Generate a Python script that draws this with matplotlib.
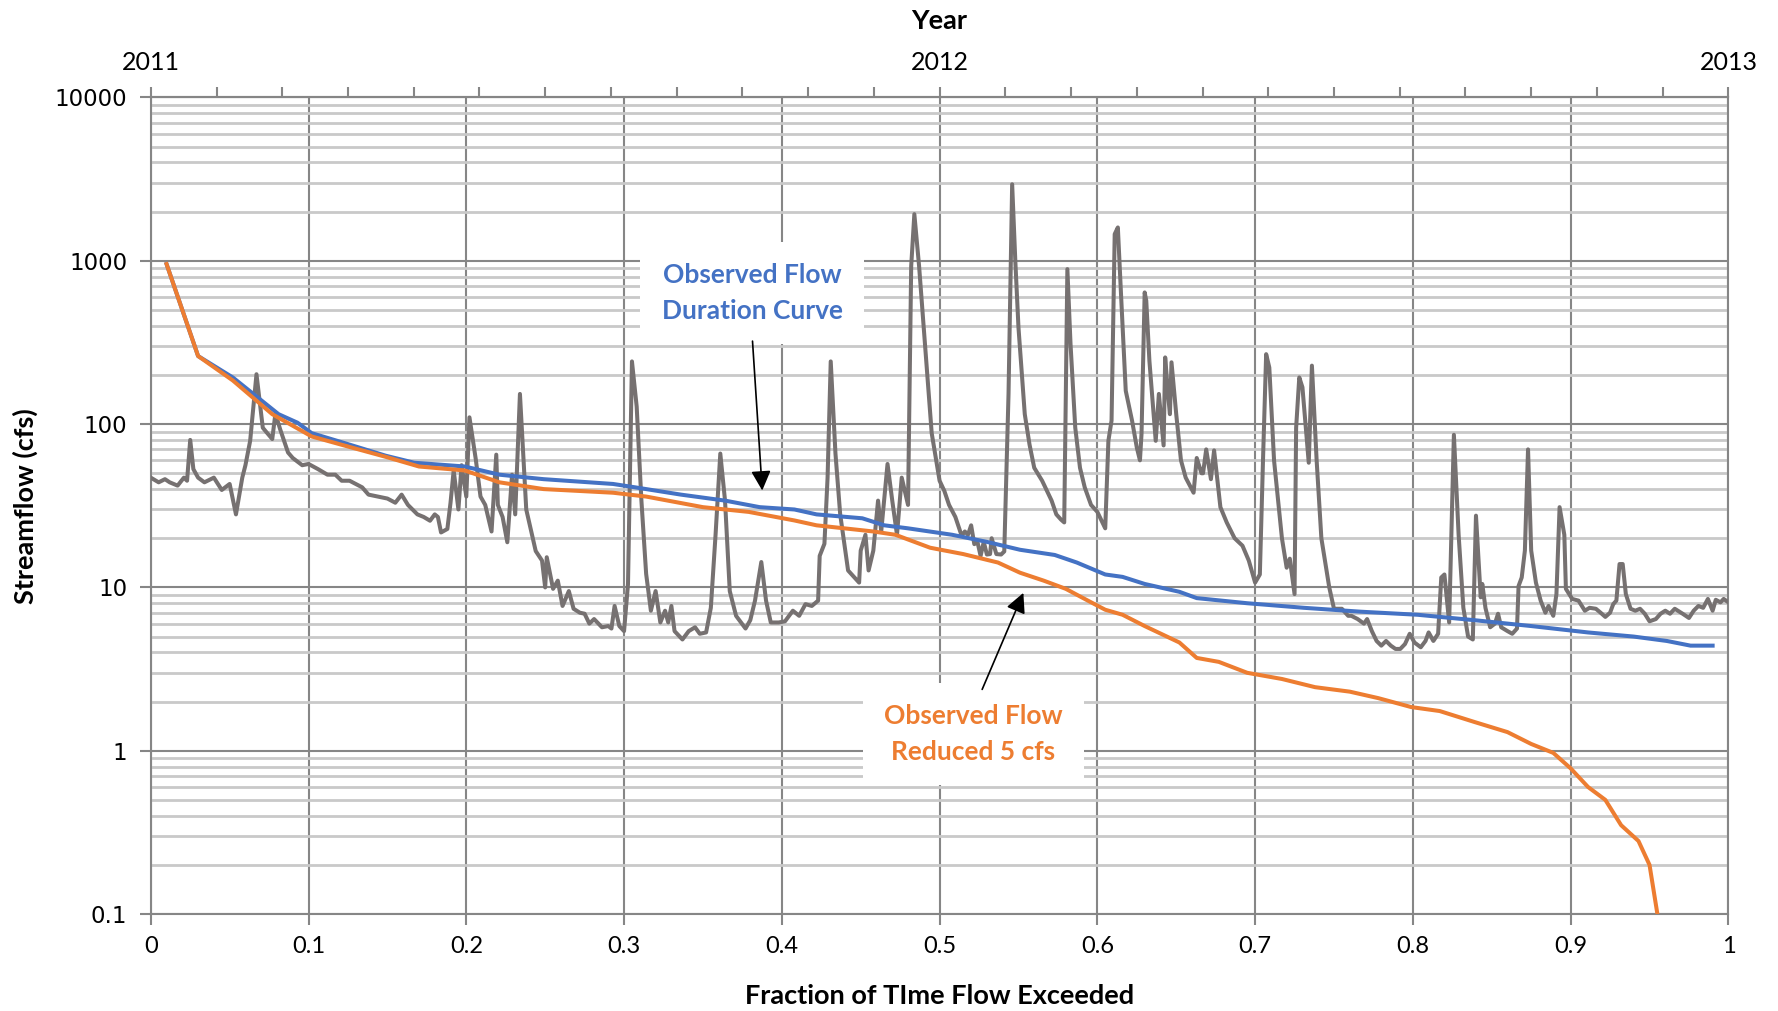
import numpy as np
import matplotlib
matplotlib.use("Agg")
import matplotlib.pyplot as plt

plt.rcParams['font.family'] = ['Lato', 'DejaVu Sans']

# flow duration curves (fraction of time exceeded, cfs)
fdc_x = [0.010, 0.030, 0.052, 0.081, 0.093, 0.102, 0.120, 0.149, 0.167, 0.199, 0.221, 0.249,
         0.293, 0.307, 0.336, 0.364, 0.386, 0.408, 0.422, 0.451, 0.465, 0.480, 0.508, 0.530,
         0.551, 0.573, 0.587, 0.605, 0.616, 0.630, 0.652, 0.663, 0.695, 0.731, 0.767, 0.803,
         0.839, 0.875, 0.911, 0.940, 0.961, 0.976, 0.990]
fdc_obs = [955, 261, 193, 115, 102, 88, 78, 64, 58, 55, 49, 46,
           43, 41, 37, 34, 31, 30, 28, 26.5, 24, 23, 21, 19,
           17, 15.8, 14.2, 12, 11.6, 10.5, 9.4, 8.6, 8.0, 7.5, 7.1, 6.8,
           6.3, 5.8, 5.3, 5.0, 4.7, 4.4, 4.4]

red_x = [0.010, 0.030, 0.052, 0.077, 0.102, 0.127, 0.149, 0.170, 0.199, 0.221, 0.249, 0.293,
         0.314, 0.350, 0.379, 0.408, 0.422, 0.458, 0.472, 0.494, 0.515, 0.537, 0.551, 0.566,
         0.580, 0.594, 0.605, 0.616, 0.630, 0.652, 0.663, 0.677, 0.695, 0.717, 0.738, 0.760,
         0.778, 0.799, 0.817, 0.839, 0.860, 0.875, 0.889, 0.900, 0.911, 0.922, 0.932, 0.943,
         0.950, 0.955]
red_obs = [955, 261, 185, 115, 84, 72, 63, 55, 52, 44, 40, 38,
           36, 31, 29, 25.7, 24, 22, 21, 17.5, 16, 14.2, 12.3, 11,
           9.8, 8.3, 7.3, 6.8, 5.8, 4.6, 3.7, 3.5, 3.0, 2.75, 2.45, 2.3,
           2.1, 1.85, 1.75, 1.5, 1.3, 1.1, 0.97, 0.78, 0.6, 0.5, 0.35, 0.28,
           0.2, 0.1]

# daily streamflow 2011-2012 (as fraction of the two years)
daily_x = [0.000, 0.005, 0.009, 0.012, 0.017, 0.021, 0.023, 0.025, 0.027, 0.030, 0.034, 0.040,
           0.045, 0.050, 0.054, 0.058, 0.060, 0.063, 0.067, 0.071, 0.073, 0.077, 0.079, 0.082,
           0.087, 0.090, 0.096, 0.100, 0.106, 0.112, 0.117, 0.121, 0.126, 0.134, 0.138, 0.144,
           0.150, 0.155, 0.159, 0.163, 0.169, 0.173, 0.177, 0.180, 0.182, 0.184, 0.188, 0.190,
           0.192, 0.195, 0.197, 0.200, 0.202, 0.206, 0.209, 0.212, 0.216, 0.219, 0.220, 0.223,
           0.226, 0.229, 0.231, 0.234, 0.238, 0.244, 0.248, 0.250, 0.251, 0.255, 0.258, 0.261,
           0.265, 0.268, 0.272, 0.275, 0.278, 0.281, 0.286, 0.290, 0.292, 0.294, 0.297, 0.300,
           0.3025, 0.305, 0.308, 0.311, 0.314, 0.317, 0.320, 0.323, 0.326, 0.328, 0.330, 0.332,
           0.337, 0.341, 0.345, 0.348, 0.352, 0.355, 0.358, 0.361, 0.364, 0.367, 0.371, 0.377,
           0.380, 0.383, 0.387, 0.390, 0.393, 0.398, 0.402, 0.407, 0.411, 0.415, 0.419, 0.423,
           0.424, 0.427, 0.429, 0.431, 0.434, 0.437, 0.442, 0.449, 0.450, 0.453, 0.455, 0.458,
           0.461, 0.463, 0.467, 0.470, 0.473, 0.476, 0.480, 0.482, 0.484, 0.487, 0.491, 0.495,
           0.500, 0.503, 0.506, 0.510, 0.514, 0.516, 0.518, 0.520, 0.522, 0.524, 0.526, 0.528,
           0.530, 0.532, 0.533, 0.536, 0.539, 0.541, 0.5437, 0.546, 0.548, 0.550, 0.554, 0.557,
           0.560, 0.565, 0.571, 0.574, 0.577, 0.579, 0.581, 0.583, 0.586, 0.589, 0.592, 0.596,
           0.600, 0.605, 0.607, 0.609, 0.611, 0.613, 0.615, 0.618, 0.622, 0.625, 0.627, 0.628,
           0.630, 0.631, 0.633, 0.636, 0.637, 0.639, 0.641, 0.642, 0.643, 0.645, 0.646, 0.647,
           0.650, 0.653, 0.656, 0.661, 0.663, 0.666, 0.667, 0.669, 0.672, 0.674, 0.678, 0.682,
           0.687, 0.692, 0.696, 0.700, 0.703, 0.705, 0.707, 0.709, 0.712, 0.717, 0.720, 0.722,
           0.725, 0.726, 0.728, 0.730, 0.734, 0.736, 0.739, 0.742, 0.747, 0.750, 0.755, 0.759,
           0.761, 0.765, 0.769, 0.771, 0.774, 0.777, 0.780, 0.783, 0.786, 0.789, 0.792, 0.795,
           0.798, 0.801, 0.805, 0.808, 0.810, 0.813, 0.816, 0.818, 0.820, 0.823, 0.826, 0.829,
           0.832, 0.835, 0.838, 0.840, 0.843, 0.844, 0.846, 0.849, 0.852, 0.854, 0.856, 0.860,
           0.863, 0.866, 0.867, 0.869, 0.871, 0.873, 0.875, 0.878, 0.881, 0.884, 0.886, 0.889,
           0.891, 0.893, 0.896, 0.897, 0.901, 0.905, 0.909, 0.912, 0.916, 0.919, 0.922, 0.925,
           0.927, 0.929, 0.931, 0.933, 0.935, 0.938, 0.941, 0.944, 0.947, 0.950, 0.954, 0.957,
           0.960, 0.963, 0.966, 0.971, 0.975, 0.978, 0.981, 0.984, 0.987, 0.990, 0.992, 0.995,
           0.997, 1.000]
daily_q = [47, 44, 46, 44, 42, 47, 45, 80, 53, 47, 44, 47,
           39.5, 43, 28, 47, 56, 79, 202, 95, 90, 81, 116, 93,
           67, 62, 56, 57, 53, 49, 49, 45, 45, 41, 37, 36,
           35, 33, 37, 32, 28, 27, 25.6, 28, 27, 21.7, 22.8, 33,
           52, 30, 56, 36, 110, 61, 36, 32, 22, 65, 32, 27,
           18.9, 49, 28, 153, 30, 16.7, 14.6, 10, 15.3, 9.8, 11, 7.7,
           9.5, 7.4, 7.0, 6.9, 6.0, 6.4, 5.7, 5.8, 5.6, 7.7, 5.8, 5.4,
           10.5, 242, 128, 34, 12.1, 7.2, 9.5, 6.1, 7.2, 6.1, 7.7, 5.4,
           4.8, 5.4, 5.7, 5.2, 5.3, 7.5, 21, 66, 34, 9.5, 6.7, 5.6,
           6.3, 8.3, 14.3, 8.3, 6.1, 6.1, 6.2, 7.2, 6.7, 7.9, 7.7, 8.3,
           15.6, 18.5, 47, 242, 66, 28, 12.7, 10.7, 16.8, 21, 12.7, 16.8,
           34, 22, 57, 34, 21, 47, 32, 927, 1930, 930, 285, 88,
           45, 39, 32, 27, 20.7, 22, 21, 24, 18.4, 19, 15.6, 19,
           15.9, 16, 20, 16, 15.9, 16.6, 153, 2940, 1000, 391, 115, 75,
           54, 45, 34, 28, 26, 25, 889, 309, 95, 54, 41, 32,
           29, 23, 79, 105, 1456, 1600, 625, 160, 105, 72, 60, 87,
           640, 570, 244, 105, 79, 153, 95, 74, 256, 146, 115, 239,
           115, 60, 47, 38, 62, 50, 50, 70, 46, 69, 31, 25,
           20, 18, 14.6, 10.7, 12, 60, 268, 222, 60, 20, 13.2, 15,
           9.1, 95, 193, 168, 58, 228, 60, 20, 10, 7.4, 7.4, 6.7,
           6.7, 6.4, 6.0, 6.4, 5.4, 4.7, 4.4, 4.7, 4.4, 4.2, 4.2, 4.5,
           5.2, 4.6, 4.3, 4.7, 5.3, 4.7, 5.2, 11.5, 12, 6.1, 86, 21,
           7.5, 5.0, 4.8, 27.5, 8.7, 10.5, 7.5, 5.7, 6.0, 6.9, 5.7, 5.4,
           5.2, 5.6, 10.2, 11.5, 16.8, 70, 16.8, 10.7, 8.3, 7.0, 7.7, 6.7,
           9.1, 31, 21, 9.8, 8.5, 8.3, 7.2, 7.5, 7.4, 7.0, 6.6, 7.0,
           7.9, 8.3, 13.9, 13.9, 9.1, 7.4, 7.2, 7.4, 6.9, 6.2, 6.4, 6.9,
           7.2, 6.9, 7.4, 6.9, 6.5, 7.2, 7.7, 7.5, 8.5, 7.2, 8.4, 8.1,
           8.5, 8.1]

y_ticks = [0.1, 1, 10, 100, 1000, 10000]
y_tick_labels = ['0.1', '1', '10', '100', '1000', '10000']
x_ticks = [0, 0.1, 0.2, 0.3, 0.4, 0.5, 0.6, 0.7, 0.8, 0.9, 1]
x_tick_labels = ['0', '0.1', '0.2', '0.3', '0.4', '0.5', '0.6', '0.7', '0.8', '0.9', '1']
year_ticks = [0, 0.5, 1]
year_labels = ['2011', '2012', '2013']

grid_dark = '#868686'
grid_light = '#c9c9c9'

fig = plt.figure(figsize=(17.78, 10.11), dpi=100)
ax = fig.add_axes([0.0848, 0.0959, 0.8873, 0.8077])

ax.plot(daily_x, daily_q, color='#767171', lw=2.9, zorder=3)
ax.plot(fdc_x, fdc_obs, color='#4472C4', lw=2.9, zorder=4)
ax.plot(red_x, red_obs, color='#ED7D31', lw=2.9, zorder=5)

ax.set_yscale('log')
ax.set_ylim(0.1, 10000)
ax.set_xlim(0, 1)
ax.set_yticks(y_ticks, y_tick_labels)
ax.set_xticks(x_ticks, x_tick_labels)
ax.yaxis.set_minor_formatter(matplotlib.ticker.NullFormatter())
for lab in ax.get_yticklabels():
    lab.set_family('DejaVu Sans')

ax.set_axisbelow(True)
ax.grid(which='minor', axis='y', color=grid_light, lw=2.0)
ax.grid(which='major', color=grid_dark, lw=1.5)
for s in ax.spines.values():
    s.set_color(grid_dark)
    s.set_linewidth(1.5)

ax.tick_params(axis='both', which='major', direction='out', length=8, width=1.5,
               color=grid_dark, labelsize=17, pad=8)
ax.tick_params(axis='y', which='major', labelsize=16.5, pad=9)
ax.tick_params(axis='y', which='minor', length=0)

ax.set_xlabel('Fraction of TIme Flow Exceeded', fontsize=19.5, fontweight='bold', labelpad=19)
ax.set_ylabel('Streamflow (cfs)', fontsize=19.5, fontweight='bold', labelpad=12)

top = ax.twiny()
top.set_xlim(0, 1)
top.set_xticks(year_ticks, year_labels)
top.set_xticks(np.arange(0, 1.0001, 1 / 24), minor=True)
top.tick_params(which='both', direction='out', length=7, width=1.5, color=grid_dark,
                labelsize=18, pad=10)
top.spines['top'].set_color(grid_dark)
top.spines['top'].set_linewidth(1.5)
for s in ['left', 'right', 'bottom']:
    top.spines[s].set_visible(False)
top.set_xlabel('Year', fontsize=19.5, fontweight='bold', labelpad=16)

# callouts
ax.annotate('', xy=(0.3877, 37.7), xytext=(0.3813, 335),
            arrowprops=dict(arrowstyle='-|>', color='black', lw=1.2, mutation_scale=30),
            zorder=8)
ax.text(0.3811, 635, 'Observed Flow\nDuration Curve', color='#4472C4', fontsize=19,
        fontweight='bold', ha='center', va='center', linespacing=1.6, zorder=7,
        bbox=dict(boxstyle='square,pad=0.8', fc='white', ec='none'))

ax.annotate('', xy=(0.5538, 9.6), xytext=(0.5263, 2.29),
            arrowprops=dict(arrowstyle='-|>', color='black', lw=1.2, mutation_scale=30),
            zorder=8)
ax.text(0.5213, 1.26, 'Observed Flow\nReduced 5 cfs', color='#ED7D31', fontsize=19,
        fontweight='bold', ha='center', va='center', linespacing=1.6, zorder=7,
        bbox=dict(boxstyle='square,pad=0.8', fc='white', ec='none'))

fig.savefig('out.png', dpi=100)
